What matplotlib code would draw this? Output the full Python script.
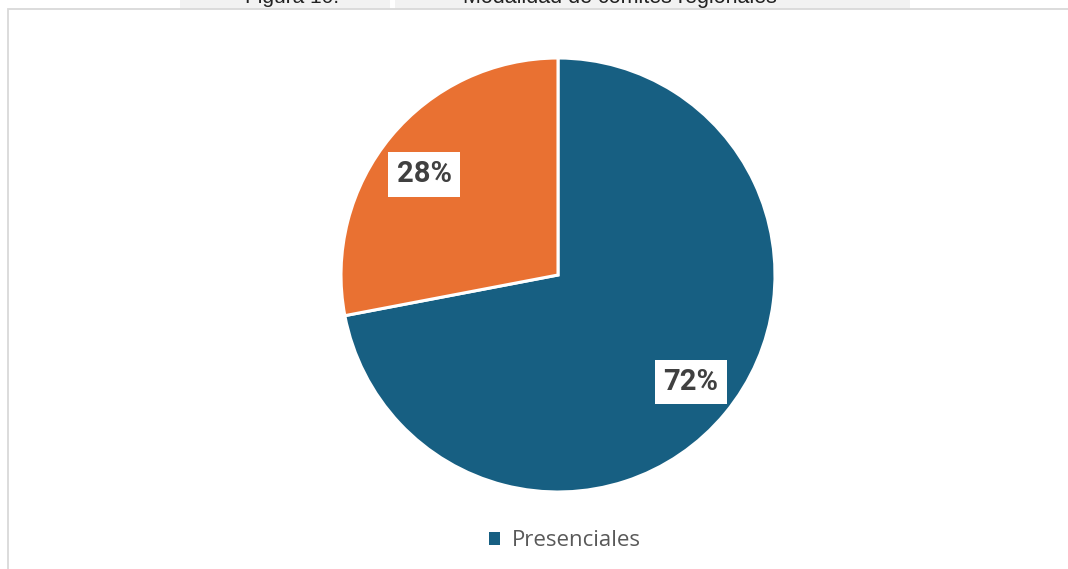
import matplotlib
matplotlib.use("Agg")
import matplotlib.pyplot as plt
from matplotlib.patches import Rectangle

# Data
categories = ["Presenciales", "Virtuales"]
shares = [72, 28]
colors = ["#175F82", "#E97132"]
title_num = "Figura 10."
title_text = "Modalidad de comités regionales"

W, H = 1068, 569
fig = plt.figure(figsize=(W / 100, H / 100), dpi=100)
fig.patch.set_facecolor("white")

def px(x, y):
    """Pixel position (from top-left) to figure fraction."""
    return x / W, 1 - y / H

# Caption strip above the chart frame
for x0, x1 in [(180, 390), (395, 910)]:
    fig.patches.append(Rectangle(px(x0, 8.5), (x1 - x0) / W, 12 / H,
                                 transform=fig.transFigure, facecolor="#f2f2f2",
                                 edgecolor="none", zorder=0))
fig.text(*px(292, 3), title_num, ha="center", va="baseline",
         fontsize=15, family="Liberation Sans", color="#222222")
fig.text(*px(620, 3), title_text, ha="center", va="baseline",
         fontsize=15.5, family="Liberation Sans", color="#222222")

# Chart frame
fig.patches.append(Rectangle(px(7.5, 580), (1080 - 7.5) / W, (580 - 8.5) / H,
                             transform=fig.transFigure, facecolor="white",
                             edgecolor="#d9d9d9", linewidth=1.3, zorder=1))

# Pie axes: centre (558, 275), radius 217 px
cx, cy, r = 558, 275, 217
left, bottom = px(cx - r, cy + r)
ax = fig.add_axes([left, bottom, 2 * r / W, 2 * r / H])
ax.set_zorder(2)
wedges, texts, autotexts = ax.pie(
    shares, colors=colors, startangle=90, counterclock=False,
    autopct=lambda p: f"{p:.0f}%", pctdistance=0.78,
    wedgeprops=dict(edgecolor="white", linewidth=2.2),
    textprops=dict(fontsize=21, fontweight="bold", color="#404040",
                   family="Roboto"))

# Data-label placement (in pie radius units)
label_pos = [(0.613, -0.493), (-0.617, 0.465)]
for t, pos in zip(autotexts, label_pos):
    t.set_position(pos)
    t.set_bbox(dict(facecolor="white", edgecolor="none", pad=6))
ax.set_xlim(-1, 1)
ax.set_ylim(-1, 1)
ax.set_aspect("equal")
ax.axis("off")

# Legend (first category)
leg = fig.legend([wedges[0]], [categories[0]], loc="center",
                 bbox_to_anchor=px(565, 541), frameon=False,
                 handlelength=0.5, handleheight=0.5, handletextpad=0.55,
                 prop=dict(family="Open Sans", size=16))
for t in leg.get_texts():
    t.set_color("#595959")
leg.legend_handles[0].set_edgecolor("none")
leg.set_zorder(3)

fig.savefig("out.png", dpi=100)
